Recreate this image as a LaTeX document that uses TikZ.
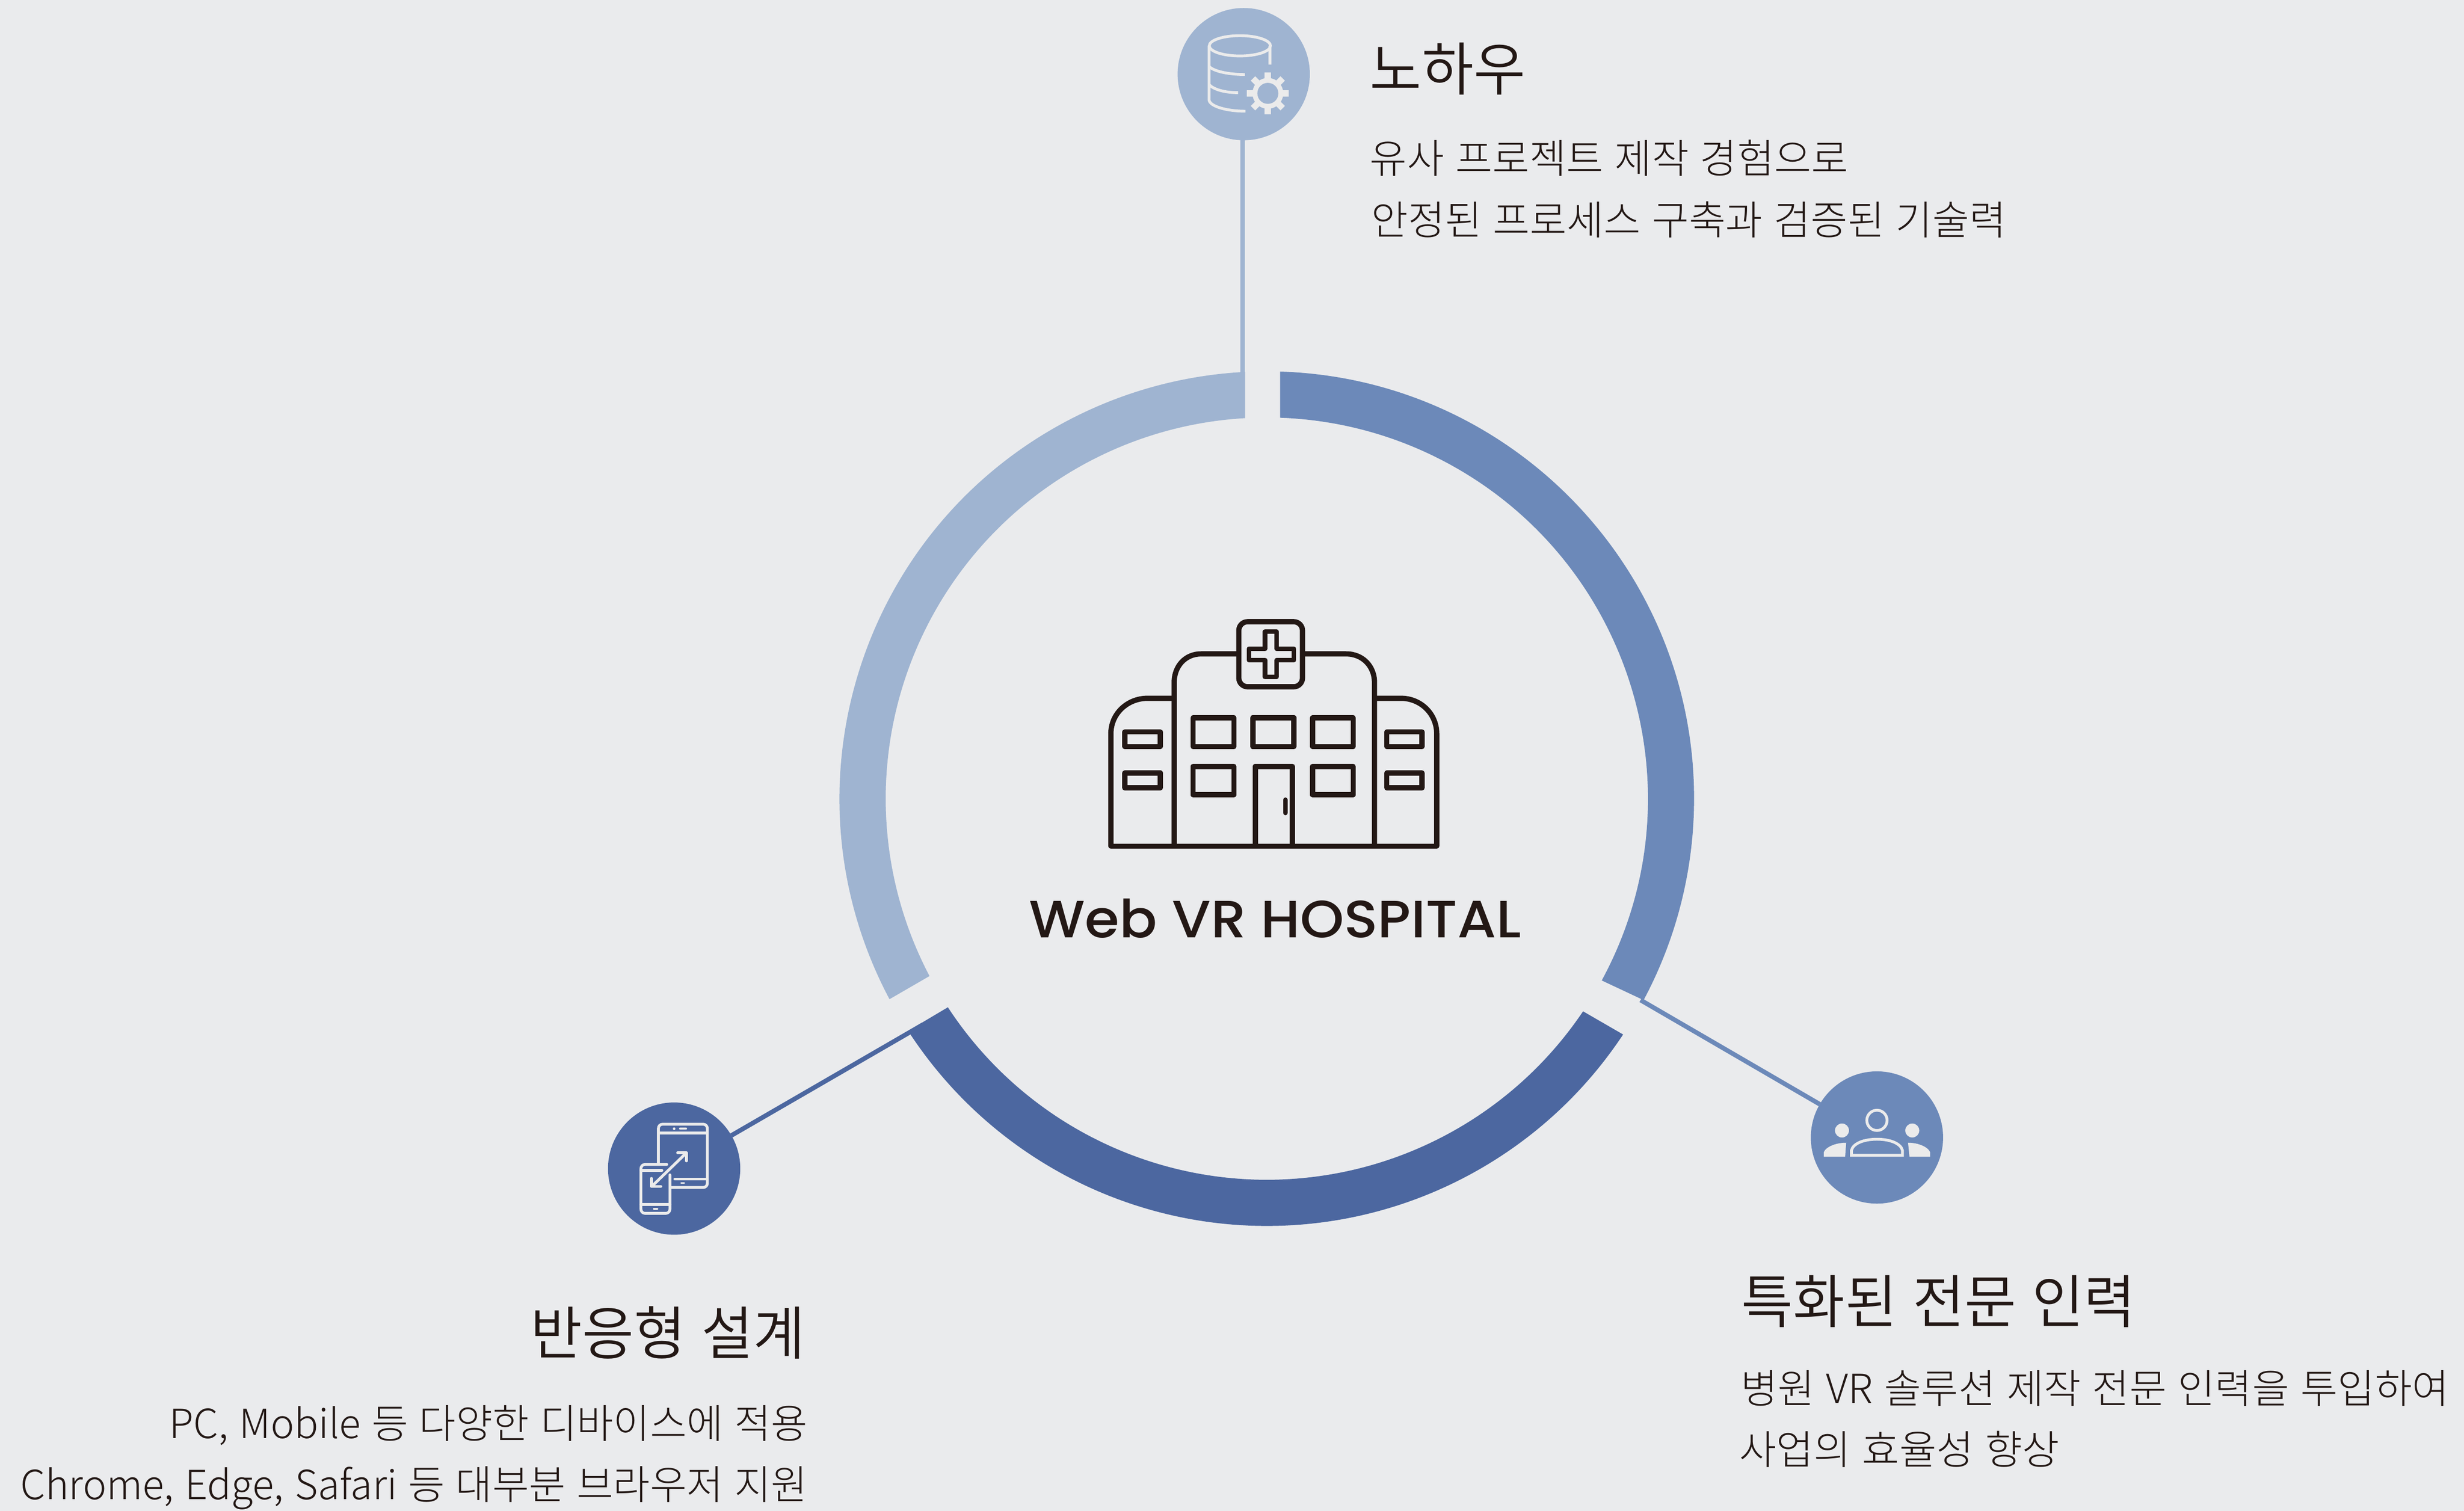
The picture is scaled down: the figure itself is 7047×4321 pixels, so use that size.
\documentclass[tikz,border=0pt]{standalone}
\usetikzlibrary{calc}
\usepackage{graphicx}
\usepackage{fontspec}
\newfontfamily\krf[WordSpace=1.25]{Noto Sans CJK KR Light}
\newfontfamily\krt[WordSpace=1.25]{Noto Sans CJK KR DemiLight}
\newfontfamily\popf{Poppins Medium}
\newlength\fitlen
\newcommand\fitw[2]{\settowidth\fitlen{#2}\pgfmathsetmacro\fitx{#1*0.28453/\fitlen}\scalebox{\fitx}[1]{#2}}
\definecolor{bgc}{HTML}{EAEBED}
\definecolor{lightc}{HTML}{9FB4D1}
\definecolor{midc}{HTML}{6C89B9}
\definecolor{darkc}{HTML}{4C67A0}
\definecolor{inkc}{HTML}{231815}
\definecolor{iconc}{HTML}{EBEBEB}
\tikzset{
  hub/.style={circle,draw=none,inner sep=0,outer sep=0,minimum size=3.78cm},
  tline/.style={inner sep=0,outer sep=0,text=inkc,font=\krt\fontsize{47}{47}\selectfont},
  bline/.style={inner sep=0,outer sep=0,text=inkc,font=\krf\fontsize{32.7}{32.7}\selectfont},
  link/.style={line width=0.13cm},
  bldg/.style={draw=inkc,line width=0.15cm,line join=round},
  ico/.style={draw=iconc,line width=0.08cm,line cap=round,line join=round},
  icof/.style={fill=iconc,draw=none}
}
\begin{document}
\begin{tikzpicture}[x=0.01cm,y=0.01cm]
\path[use as bounding box,fill=bgc] (0,0) rectangle (7047,-4321);
\coordinate (C) at (3623,-2284);
% connectors
\coordinate (topend) at (3553.5,-1150);
\coordinate (leftend) at (2640,-2930);
\coordinate (rightend) at (4692,-2860);
\node[hub,fill=lightc] (top) at (3557,-212) {};
\node[hub,fill=darkc] (left) at (1928,-3342) {};
\node[hub,fill=midc] (right) at (5368,-3253) {};
\draw[link,draw=lightc] (top.center -| topend) -- (topend);
\draw[link,draw=darkc] (left) -- (leftend);
\draw[link,draw=midc] (right) -- (rightend);
% ring
\fill[lightc] ($(C)+(93.26:1090)$) arc[start angle=93.26,end angle=207.74,radius=1090]
  -- ($(C)+(207.99:1222)$) arc[start angle=207.99,end angle=92.91,radius=1222] -- cycle;
\fill[darkc] ($(C)+(213.19:1090)$) arc[start angle=213.19,end angle=326.08,radius=1090]
  -- ($(C)+(326.5:1222)$) arc[start angle=326.5,end angle=212.92,radius=1222] -- cycle;
\fill[midc] ($(C)+(-28.49:1090)$) arc[start angle=-28.49,end angle=88.0,radius=1090]
  -- ($(C)+(88.22:1222)$) arc[start angle=88.22,end angle=-28.13,radius=1222] -- cycle;
% hospital
\draw[bldg] (3177,-2420) -- (3177,-2099) .. controls (3177,-2040) and (3225,-1997) .. (3282,-1997) -- (3358,-1997);
\draw[bldg] (3358,-2420) -- (3358,-1952) .. controls (3358,-1905) and (3390,-1870) .. (3435,-1870) -- (3543,-1870);
\draw[bldg] (3931,-2420) -- (3931,-1952) .. controls (3931,-1905) and (3897,-1870) .. (3850,-1870) -- (3725,-1870);
\draw[bldg] (4109,-2420) -- (4109,-2099) .. controls (4109,-2040) and (4062,-1997) .. (4007,-1997) -- (3931,-1997);
\draw[bldg,line cap=round] (3177,-2420) -- (4109,-2420);
\draw[bldg,rounded corners=0.25cm] (3543,-1778) rectangle (3725,-1964);
\draw[bldg,line width=0.13cm] (3618,-1806) -- (3651,-1806) -- (3651,-1855) -- (3700,-1855) -- (3700,-1888) -- (3651,-1888) -- (3651,-1936) -- (3618,-1936) -- (3618,-1888) -- (3572,-1888) -- (3572,-1855) -- (3618,-1855) -- cycle;
\draw[bldg] (3412,-2053) rectangle (3529,-2135);
\draw[bldg] (3583,-2053) rectangle (3700,-2135);
\draw[bldg] (3754,-2053) rectangle (3870,-2135);
\draw[bldg] (3412,-2192) rectangle (3529,-2273);
\draw[bldg] (3754,-2192) rectangle (3870,-2273);
\draw[bldg] (3590,-2420) -- (3590,-2192) -- (3696,-2192) -- (3696,-2420);
\draw[bldg,line cap=round,line width=0.13cm] (3676,-2287) -- (3676,-2325);
\draw[bldg] (3217,-2093) rectangle (3318,-2135);
\draw[bldg] (3217,-2211) rectangle (3318,-2253);
\draw[bldg] (3966,-2093) rectangle (4067,-2135);
\draw[bldg] (3966,-2211) rectangle (4067,-2253);
% database icon
\draw[ico,line width=0.08cm,line cap=butt] (3546,-131) ellipse[x radius=87.5,y radius=29];
\draw[ico,line width=0.08cm,line cap=butt] (3632,-131) -- (3632,-185);
\draw[ico,line width=0.08cm,line cap=butt] (3458,-131) -- (3458,-287) .. controls (3462,-305) and (3510,-318) .. (3562,-318);
\draw[ico,line width=0.08cm,line cap=butt] (3458,-190) .. controls (3470,-203) and (3510,-213) .. (3560,-213);
\draw[ico,line width=0.08cm,line cap=butt] (3458,-242) .. controls (3470,-255) and (3500,-265) .. (3541,-265);
\fill[iconc] (3626,-267) circle[radius=44];
\foreach \a in {0,45,...,315}{\draw[draw=iconc,line width=0.18cm] (3626,-267) ++(\a:38) -- ++(\a:22);}
\fill[lightc] (3626,-267) circle[radius=30];
% devices icon
\draw[ico] (1883,-3327) -- (1883,-3227) arc[start angle=180,end angle=90,radius=12] -- (2011,-3215) arc[start angle=90,end angle=0,radius=12] -- (2023,-3384) arc[start angle=0,end angle=-90,radius=12] -- (1920,-3396);
\draw[ico] (1883,-3240) -- (2023,-3240);
\draw[ico] (1930,-3372) -- (2023,-3372);
\fill[iconc] (1928,-3228) circle[radius=3.8];
\draw[ico,line width=0.06cm] (1945,-3228) -- (1962,-3228);
\draw[ico,line width=0.05cm] (1948,-3383) -- (1957,-3383);
\draw[ico] (1907,-3330) -- (1845,-3330) arc[start angle=90,end angle=180,radius=12] -- (1833,-3458) arc[start angle=180,end angle=270,radius=12] -- (1904,-3470) arc[start angle=270,end angle=360,radius=12] -- (1916,-3360);
\draw[ico] (1833,-3347) -- (1893,-3347);
\draw[ico] (1833,-3445) -- (1916,-3445);
\draw[ico,line width=0.05cm] (1870,-3457) -- (1880,-3457);
\draw[ico] (1867,-3390) -- (1962,-3298);
\draw[ico] (1938,-3297) -- (1963,-3297) -- (1963,-3320);
\draw[ico] (1863,-3370) -- (1863,-3393) -- (1890,-3393);
% people icon
\draw[ico,line cap=butt] (5368,-3204) circle[radius=29];
\fill[iconc] (5268,-3233) circle[radius=20];
\fill[iconc] (5469,-3233) circle[radius=20];
\draw[ico,line width=0.08cm,line cap=butt,line join=miter] (5295,-3304) -- (5295,-3290) .. controls (5300,-3270) and (5330,-3258) .. (5368,-3258) .. controls (5406,-3258) and (5436,-3270) .. (5441,-3290) -- (5441,-3304) -- cycle;
\fill[iconc] (5216,-3308) -- (5216,-3295) .. controls (5222,-3280) and (5250,-3268) .. (5280,-3268) -- (5277,-3308) -- cycle;
\fill[iconc] (5520,-3308) -- (5520,-3295) .. controls (5514,-3280) and (5486,-3268) .. (5457,-3268) -- (5461,-3308) -- cycle;
% text
\node[inner sep=0,outer sep=0,text=inkc,anchor=base] (hname) at (3647,-2681) {\popf\fontsize{42.7}{42.7}\selectfont\fitw{1406}{Web VR HOSPITAL}};
\node[tline,anchor=base west] (t1) at (3918,-258) {\fitw{445}{노하우}};
\node[bline,anchor=base west] (b1a) at (3918,-496) {\fitw{1368}{유사 프로젝트 제작 경험으로}};
\node[bline,anchor=base west] (b1b) at (3922,-672) {\fitw{1815}{안정된 프로세스 구축과 검증된 기술력}};
\node[tline,anchor=base east] (t2) at (2303,-3873) {\fitw{786}{반응형 설계}};
\node[bline,anchor=base east] (b2a) at (2310,-4113) {\fitw{1825}{PC, Mobile 등 다양한 디바이스에 적용}};
\node[bline,anchor=base east] (b2b) at (2310,-4288) {\fitw{2250}{Chrome, Edge, Safari 등 대부분 브라우저 지원}};
\node[tline,anchor=base west] (t3) at (4980,-3783) {\fitw{1128}{특화된 전문 인력}};
\node[bline,anchor=base west] (b3a) at (4978,-4013) {\fitw{2026}{병원 VR 솔루션 제작 전문 인력을 투입하여}};
\node[bline,anchor=base west] (b3b) at (4974,-4188) {\fitw{916}{사업의 효율성 향상}};
\end{tikzpicture}
\end{document}
